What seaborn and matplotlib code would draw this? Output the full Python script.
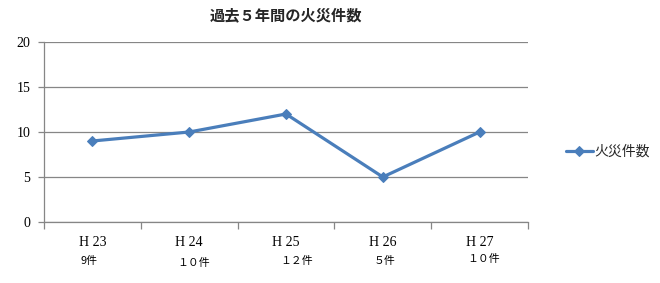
import matplotlib
matplotlib.use("Agg")
import matplotlib.pyplot as plt
import matplotlib.transforms as mtransforms
import seaborn as sns
import pandas as pd

# ---- data ----
years = ["H 23", "H 24", "H 25", "H 26", "H 27"]
fires = [9, 10, 12, 5, 10]
count_labels = ["9件", "１０件", "１２件", "５件", "１０件"]
series_name = "火災件数"
title = "過去５年間の火災件数"
y_ticks = [0, 5, 10, 15, 20]

# small layout nudges (pixels; +y is up) for the count labels
nudge_x = [-3, 4, 11, 2, 4]
nudge_y = [0, -2, 0, 0, 2]

sns.set_theme(style="white")
plt.rcParams["font.family"] = ["Noto Sans CJK JP", "DejaVu Sans"]

LINE = "#4A7EBB"
GRAY = "#868686"

fig = plt.figure(figsize=(6.6, 2.83), dpi=100)
ax = fig.add_axes([44 / 660, 1 - 222 / 283, 484 / 660, 180 / 283])

df = pd.DataFrame({"year": years, "count": fires})
sns.lineplot(data=df, x="year", y="count", ax=ax, color=LINE, linewidth=2.3,
             marker="D", markersize=4.8, markeredgecolor=LINE,
             markerfacecolor=LINE, label=series_name, sort=False)

ax.set_xlim(-0.5, len(years) - 0.5)
ax.set_ylim(0, 20)
ax.set_yticks(y_ticks)
ax.set_yticklabels([str(v) for v in y_ticks], family="Liberation Serif",
                   fontsize=10, color="#000000")
ax.yaxis.grid(True, color=GRAY, linewidth=0.9)
ax.xaxis.grid(False)
ax.set_xlabel("")
ax.set_ylabel("")

ax.set_xticks(range(len(years)))
ax.set_xticklabels(years, family="Liberation Serif", fontsize=10, color="#000000")
ax.set_xticks([i - 0.5 for i in range(len(years) + 1)], minor=True)
ax.tick_params(axis="x", which="major", length=0, pad=10)
ax.tick_params(axis="x", which="minor", length=5, width=0.9, color=GRAY,
               direction="out", bottom=True)
ax.tick_params(axis="y", length=4, width=0.9, color=GRAY, direction="out",
               left=True, pad=6)

for s in ["top", "right"]:
    ax.spines[s].set_visible(False)
for s in ["left", "bottom"]:
    ax.spines[s].set_color(GRAY)
    ax.spines[s].set_linewidth(0.9)

ax.set_title(title, fontsize=11, fontweight="bold", pad=16)

trans = mtransforms.blended_transform_factory(ax.transData, fig.transFigure)
for i, lab in enumerate(count_labels):
    off = mtransforms.ScaledTranslation(nudge_x[i] / 100, nudge_y[i] / 100,
                                        fig.dpi_scale_trans)
    ax.text(i, 1 - 261 / 283, lab, transform=trans + off, ha="center",
            va="center", fontsize=7.8, color="#000000")

ax.get_legend().remove()
h, l = ax.get_legend_handles_labels()
fig.legend(h, l, loc="center left", bbox_to_anchor=(553 / 660, 1 - 152 / 283),
           frameon=False, fontsize=10, handlelength=2.0, handletextpad=0.1)

fig.savefig("out.png", dpi=100)
